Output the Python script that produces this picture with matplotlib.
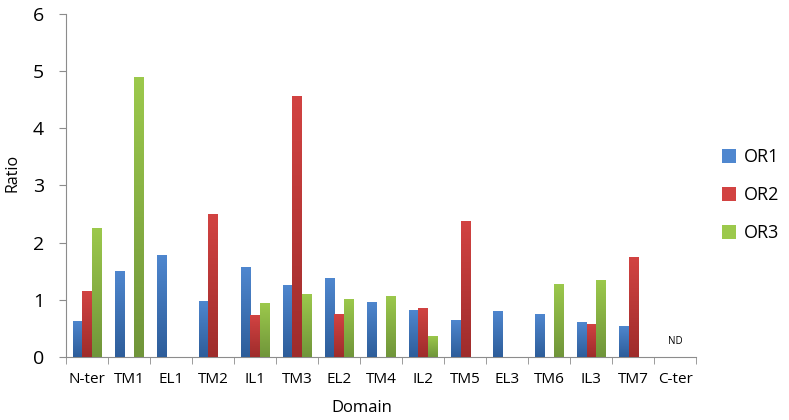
import numpy as np
import matplotlib
matplotlib.use("Agg")
import matplotlib.pyplot as plt
from matplotlib.colors import LinearSegmentedColormap
from matplotlib.patches import Patch

plt.rcParams['font.family'] = ['Open Sans', 'DejaVu Sans']

domains = ["N-ter", "TM1", "EL1", "TM2", "IL1", "TM3", "EL2", "TM4",
           "IL2", "TM5", "EL3", "TM6", "IL3", "TM7", "C-ter"]
or1 = [0.63, 1.51, 1.79, 0.98, 1.57, 1.26, 1.38, 0.97, 0.83, 0.65, 0.81, 0.75, 0.61, 0.55, 0]
or2 = [1.16, 0, 0, 2.50, 0.73, 4.57, 0.75, 0, 0.86, 2.38, 0, 0, 0.58, 1.74, 0]
or3 = [2.26, 4.89, 0, 0, 0.94, 1.11, 1.02, 1.07, 0.37, 0, 0, 1.28, 1.35, 0, 0]
series = ["OR1", "OR2", "OR3"]
tops = ["#4f87cf", "#d24342", "#9cc94c"]
bottoms = ["#2d5d9a", "#9e2c2b", "#70953a"]

fig = plt.figure(figsize=(7.89, 4.2), dpi=100)
ax = fig.add_axes([0.0837, 0.15, 0.799, 0.817])

x = np.arange(len(domains))
w = 0.228
for i, vals in enumerate([or1, or2, or3]):
    bars = ax.bar(x + (i - 1) * w, vals, width=w, color=tops[i], linewidth=0, zorder=2)
    cmap = LinearSegmentedColormap.from_list(series[i], [bottoms[i], tops[i]])
    grad = np.linspace(0, 1, 256).reshape(-1, 1)
    for b in bars:
        h = b.get_height()
        if h <= 0:
            continue
        x0 = b.get_x()
        im = ax.imshow(grad, cmap=cmap, origin='lower', aspect='auto',
                       extent=[x0, x0 + b.get_width(), 0, h], zorder=3)
        im.set_clip_path(b)

ax.text(x[-1], 0.27, "ND", fontsize=7, ha='center', va='center')

ax.set_xlim(-0.5, len(domains) - 0.5)
ax.set_ylim(0, 6)
ax.set_yticks(range(7))
ax.set_xticks(x)
ax.set_xticklabels(domains, fontsize=11)
ax.set_xticks(np.arange(-0.5, len(domains)), minor=True)
ax.tick_params(axis='x', which='major', length=0, pad=11)
ax.tick_params(axis='x', which='minor', length=5, color='#8c8c8c', direction='out')
ax.tick_params(axis='y', labelsize=14, length=5, color='#8c8c8c', pad=11)

for s in ['top', 'right']:
    ax.spines[s].set_visible(False)
for s in ['left', 'bottom']:
    ax.spines[s].set_color('#8c8c8c')

ax.set_ylabel("Ratio", fontsize=11.5)
ax.yaxis.set_label_coords(-0.073, 0.536)
ax.set_xlabel("Domain", fontsize=12, va='center')
ax.xaxis.set_label_coords(0.469, -0.149)

handles = [Patch(facecolor=tops[i], edgecolor='none', label=series[i]) for i in range(3)]
fig.legend(handles=handles, loc='center left', bbox_to_anchor=(0.915, 0.535),
           frameon=False, fontsize=13, handlelength=0.8, handleheight=0.8,
           handletextpad=0.4, labelspacing=1.1, borderpad=0, borderaxespad=0)

fig.savefig("out.png", dpi=100)
